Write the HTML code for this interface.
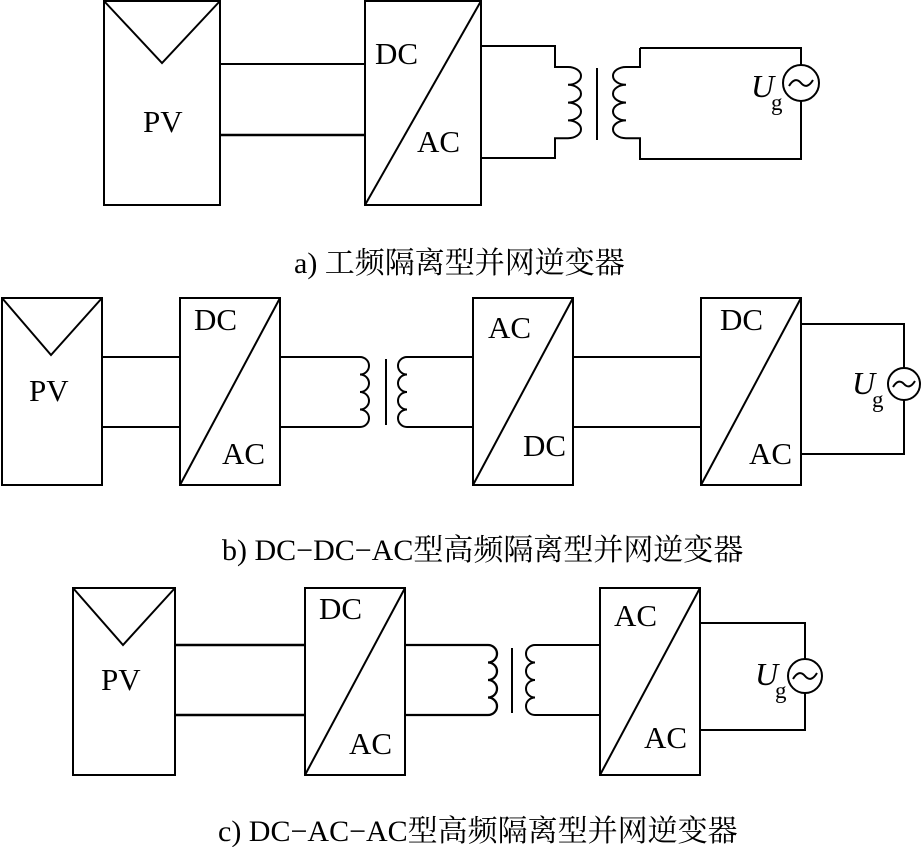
<!DOCTYPE html>
<html><head><meta charset="utf-8"><style>
body{margin:0;background:#fff;}
svg{display:block;}
text{font-family:"Liberation Serif","Noto Serif CJK SC",serif;fill:#000;}
</style></head><body>
<svg width="921" height="847" viewBox="0 0 921 847" xmlns="http://www.w3.org/2000/svg">
<g fill="none" stroke="#000" stroke-width="2">
<!-- a -->
<rect x="104" y="1" width="116" height="204"/>
<polyline points="104,1 162,63 220,1"/>
<rect x="365" y="1" width="116" height="204"/>
<line x1="365" y1="205" x2="481" y2="1"/>
<line x1="220" y1="64" x2="365" y2="64"/>
<line x1="220" y1="135" x2="365" y2="135" stroke-width="2.5"/>
<path d="M481 46 H555 V67 H568 a13 8.9 0 0 1 0 17.8 a13 8.9 0 0 1 0 17.8 a13 8.9 0 0 1 0 17.8 a13 8.9 0 0 1 0 17.8 H555 V158 H481"/>
<line x1="597" y1="68" x2="597" y2="140"/>
<path d="M640 48 V67 H626 a13 8.9 0 0 0 0 17.8 a13 8.9 0 0 0 0 17.8 a13 8.9 0 0 0 0 17.8 a13 8.9 0 0 0 0 17.8 H640 V159 H801 V101 M801 65 V48 H640"/>
<circle cx="801" cy="83" r="18"/>
<path d="M789 86 q6 -10 12 -3 q6 7 12 -3"/>
<!-- b -->
<rect x="2" y="298" width="100" height="187"/>
<polyline points="2,298 51,355 102,298"/>
<rect x="180" y="298" width="100" height="187"/>
<line x1="180" y1="485" x2="280" y2="298"/>
<line x1="102" y1="357" x2="180" y2="357"/>
<line x1="102" y1="427" x2="180" y2="427"/>
<path d="M280 357 H360 a9 8.75 0 0 1 0 17.5 a9 8.75 0 0 1 0 17.5 a9 8.75 0 0 1 0 17.5 a9 8.75 0 0 1 0 17.5 H280"/>
<line x1="386" y1="359" x2="386" y2="425"/>
<path d="M473 357 H407 a9 8.75 0 0 0 0 17.5 a9 8.75 0 0 0 0 17.5 a9 8.75 0 0 0 0 17.5 a9 8.75 0 0 0 0 17.5 H473"/>
<rect x="473" y="298" width="100" height="187"/>
<line x1="473" y1="485" x2="573" y2="298"/>
<line x1="573" y1="357" x2="701" y2="357"/>
<line x1="573" y1="427" x2="701" y2="427"/>
<rect x="701" y="298" width="100" height="187"/>
<line x1="701" y1="485" x2="801" y2="298"/>
<path d="M801 324 H904 V368 M904 400 V454 H801"/>
<circle cx="904" cy="384" r="16"/>
<path d="M893 387 q5.5 -9 11 -3 q5.5 6 11 -3"/>
<!-- c -->
<rect x="73" y="588" width="102" height="187"/>
<polyline points="73,588 123,645 175,588"/>
<rect x="305" y="588" width="100" height="187"/>
<line x1="305" y1="775" x2="405" y2="588"/>
<line x1="175" y1="645" x2="305" y2="645" stroke-width="2.5"/>
<line x1="175" y1="715" x2="305" y2="715" stroke-width="2.5"/>
<path d="M405 645 H488 a9 8.75 0 0 1 0 17.5 a9 8.75 0 0 1 0 17.5 a9 8.75 0 0 1 0 17.5 a9 8.75 0 0 1 0 17.5 H405" stroke-width="2.3"/>
<line x1="512" y1="648" x2="512" y2="713"/>
<path d="M600 645 H535 a9 8.75 0 0 0 0 17.5 a9 8.75 0 0 0 0 17.5 a9 8.75 0 0 0 0 17.5 a9 8.75 0 0 0 0 17.5 H600"/>
<rect x="600" y="588" width="100" height="187"/>
<line x1="600" y1="775" x2="700" y2="588"/>
<path d="M700 623 H805 V659 M805 693 V730 H700"/>
<circle cx="805" cy="676" r="17"/>
<path d="M793 679 q6 -10 12 -3 q6 7 12 -3"/>
</g>
<g font-size="31">
<text x="143" y="132">PV</text>
<text x="375" y="64">DC</text>
<text x="417" y="152">AC</text>
<text x="751" y="97" font-style="italic" font-size="32">U</text><text x="771" y="110" font-size="23">g</text>

<text x="29" y="401">PV</text>
<text x="194" y="330">DC</text>
<text x="222" y="464">AC</text>
<text x="488" y="338">AC</text>
<text x="523" y="456">DC</text>
<text x="720" y="330">DC</text>
<text x="749" y="464">AC</text>
<text x="852" y="394" font-style="italic" font-size="32">U</text><text x="872" y="407" font-size="23">g</text>

<text x="101" y="690">PV</text>
<text x="319" y="619">DC</text>
<text x="349" y="754">AC</text>
<text x="614" y="626">AC</text>
<text x="644" y="748">AC</text>
<text x="755" y="685" font-style="italic" font-size="32">U</text><text x="775" y="698" font-size="23">g</text>
</g>
<g font-size="30">
<text x="294" y="273">a) 工频隔离型并网逆变器</text>
<text x="222" y="560">b) DC−DC−AC型高频隔离型并网逆变器</text>
<text x="218" y="841">c) DC−AC−AC型高频隔离型并网逆变器</text>
</g>
</svg>
</body></html>
